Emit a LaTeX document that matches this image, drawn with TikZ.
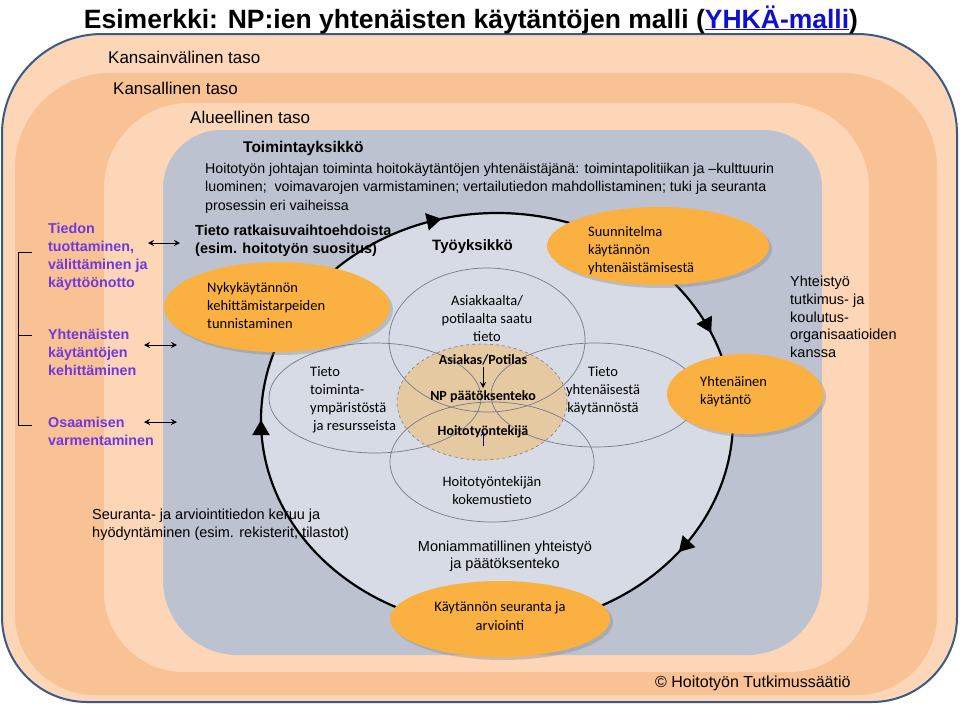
\documentclass[tikz,border=0pt]{standalone}
\usepackage{fontspec}
\setmainfont{Liberation Sans}
\newfontfamily\calfont{Carlito}
\usepackage{tikz}
\usetikzlibrary{shapes.geometric}
\usetikzlibrary{arrows.meta}
\usetikzlibrary{decorations.markings, shadows}
\usetikzlibrary{positioning}

\definecolor{peachlight}{RGB}{252,214,182}
\definecolor{peachdark}{RGB}{248,194,148}
\definecolor{unitgray}{RGB}{189,194,208}
\definecolor{circlefill}{RGB}{214,219,230}
\definecolor{ellorange}{RGB}{250,177,66}
\definecolor{coretan}{RGB}{229,201,160}
\definecolor{procpurple}{RGB}{112,56,224}
\definecolor{framedark}{RGB}{59,89,132}
\definecolor{linkblue}{RGB}{16,16,204}
\definecolor{vennline}{RGB}{118,122,138}

\begin{document}
\begin{tikzpicture}[x=1pt,y=-1pt,
  orangeell/.style={ellipse,inner sep=0pt,fill=ellorange,drop shadow={shadow xshift=3pt,shadow yshift=-3pt,opacity=0.35}},
  vennell/.style={draw=vennline,line width=0.7pt},
  arialtxt/.style={inner sep=0pt,align=left,font=\fontsize{14.2}{18.5}\selectfont},
  caltxt/.style={inner sep=0pt,align=left,font=\calfont\fontsize{14.5}{18}\selectfont},
  purpletxt/.style={inner sep=0pt,align=left,anchor=north west,text=procpurple,font=\bfseries\fontsize{14.3}{18}\selectfont},
  leveltxt/.style={inner sep=0pt,anchor=base west,font=\fontsize{17}{20}\selectfont},
  coretxt/.style={inner sep=2pt,anchor=base,font=\calfont\bfseries\fontsize{14}{16}\selectfont},
  dblarrow/.style={{Stealth[length=6pt,width=6pt]}-{Stealth[length=6pt,width=6pt]},line width=0.9pt},
  cyclearrow/.style={line width=2.2pt,postaction={decorate},decoration={markings,
    mark=at position 0.105 with {\arrow{Triangle[length=15pt,width=17pt]}},
    mark=at position 0.5 with {\arrow{Triangle[length=15pt,width=17pt]}},
    mark=at position 0.71 with {\arrow{Triangle[length=15pt,width=17pt]}},
    mark=at position 0.935 with {\arrow{Triangle[length=15pt,width=17pt]}}}}
]
\useasboundingbox (0,0) rectangle (960,705);

\fill[peachlight,draw=framedark,line width=2pt] (2,368) [rounded corners=100pt] -- (2,34) -- (957,34) -- (957,368) [rounded corners=85pt] -- (957,702) -- (2,702) -- cycle;
\fill[peachdark] (15,380) [rounded corners=95pt] -- (15,73) -- (937,73) -- (937,380) [rounded corners=80pt] -- (937,695) -- (15,695) -- cycle;
\fill[peachlight] (104,390) [rounded corners=85pt] -- (104,103) -- (869,103) -- (869,390) [rounded corners=80pt] -- (869,672) -- (104,672) -- cycle;
\fill[unitgray] (163,390) [rounded corners=58pt] -- (163,130) -- (822,130) -- (822,390) [rounded corners=75pt] -- (822,655) -- (163,655) -- cycle;

\node[font=\bfseries\fontsize{26.5}{30}\selectfont,anchor=base,inner sep=0pt] (title) at (471,28) {Esimerkki: NP:ien yhtenäisten käytäntöjen malli (\textcolor{linkblue}{\underline{YHKÄ-malli}})};
\node[leveltxt] (intl) at (108,63) {Kansainvälinen taso};
\node[leveltxt] (natl) at (113,94) {Kansallinen taso};
\node[leveltxt] (regl) at (190,123) {Alueellinen taso};

\node[inner sep=0pt,anchor=base west,font=\bfseries\fontsize{15.5}{18}\selectfont] (unit) at (243,152.5) {Toimintayksikkö};
\node[arialtxt,anchor=north west] (leader) at (205,163) {Hoitotyön johtajan toiminta hoitokäytäntöjen yhtenäistäjänä: toimintapolitiikan ja –kulttuurin\\luominen;\ \ voimavarojen varmistaminen; vertailutiedon mahdollistaminen; tuki ja seuranta\\prosessin eri vaiheissa};

\fill[circlefill] (497,420) ellipse [x radius=236, y radius=207];
\fill[coretan] (482,402) ellipse [x radius=85, y radius=58];
\draw[vennell] (487,340) ellipse [x radius=98, y radius=72];
\draw[vennell] (375,398) ellipse [x radius=106, y radius=55];
\draw[vennell] (595,395) ellipse [x radius=104, y radius=52];
\draw[vennell] (492,462) ellipse [x radius=102, y radius=60];
\draw[vennline,dashed,line width=0.6pt] (482,402) ellipse [x radius=85, y radius=58];

\node[inner sep=0pt,anchor=north west,align=left,font=\bfseries\fontsize{14.5}{17.5}\selectfont] (options) at (195,225) {Tieto ratkaisuvaihtoehdoista\\(esim. hoitotyön suositus)};
\draw[cyclearrow] (497,420) ellipse [x radius=236, y radius=207];

\node[orangeell,minimum width=226,minimum height=90] (nykyell) at (277,307) {};
\node[orangeell,minimum width=222,minimum height=78] (suunell) at (658,246) {};
\node[orangeell,minimum width=156,minimum height=80] (yhtell) at (745,394) {};
\node[orangeell,minimum width=220,minimum height=76] (kaytell) at (500,619) {};

\node[caltxt,anchor=north west] (nyky) at (207,282) {Nykykäytännön\\kehittämistarpeiden\\tunnistaminen};
\node[caltxt,anchor=north west] (suun) at (588,226) {Suunnitelma\\käytännön\\yhtenäistämisestä};
\node[caltxt,anchor=north west] (yhten) at (700,376) {Yhtenäinen\\käytäntö};
\node[caltxt,align=center,anchor=north,font=\calfont\fontsize{14.5}{19}\selectfont] (kayt) at (500,601) {Käytännön seuranta ja\\arviointi};

\node[inner sep=0pt,anchor=base west,font=\bfseries\fontsize{15}{18}\selectfont] (workunit) at (432,250) {Työyksikkö};
\node[caltxt,align=center,anchor=north] (client) at (487,295) {Asiakkaalta/\\potilaalta saatu\\tieto};
\node[caltxt,anchor=north west] (environ) at (310,366) {Tieto\\toiminta-\\ympäristöstä\\\hspace{3pt}ja resursseista};
\node[caltxt,align=center,anchor=north] (uniform) at (603,366) {Tieto\\yhtenäisestä\\käytännöstä};
\node[caltxt,align=center,anchor=north] (experience) at (492,476) {Hoitotyöntekijän\\kokemustieto};

\node[coretxt] (patient) at (483,364) {Asiakas/Potilas};
\node[coretxt] (decision) at (483,400) {NP päätöksenteko};
\node[coretxt] (nurse) at (483,435) {Hoitotyöntekijä};
\draw[-{Stealth[length=6pt,width=6pt]},line width=0.9pt] (patient) -- (decision);
\draw[-{Stealth[length=5pt,width=5pt]},line width=1pt,color=blue!55!black] ([yshift=-6pt]nurse.south) -- (nurse.center);

\node[arialtxt,font=\fontsize{14.5}{17.7}\selectfont,anchor=north west] (partners) at (790,276) {Yhteistyö\\tutkimus- ja\\koulutus-\\organisaatioiden\\kanssa};
\node[arialtxt,font=\fontsize{14.5}{18}\selectfont,anchor=north west] (followup) at (92,509) {Seuranta- ja arviointitiedon keruu ja\\hyödyntäminen (esim. rekisterit, tilastot)};
\node[arialtxt,font=\fontsize{14.5}{17}\selectfont,align=center,anchor=north] (multi) at (505,541) {Moniammatillinen yhteistyö\\ja päätöksenteko};
\node[inner sep=0pt,anchor=base west,font=\fontsize{16}{18}\selectfont] (copyr) at (655,687) {© Hoitotyön Tutkimussäätiö};

\node[purpletxt] (tiedon) at (48,223) {Tiedon\\tuottaminen,\\välittäminen ja\\käyttöönotto};
\node[purpletxt] (yhtenaisten) at (48,329) {Yhtenäisten\\käytäntöjen\\kehittäminen};
\node[purpletxt] (osaamisen) at (48,417) {Osaamisen\\varmentaminen};

\coordinate (tiedonL) at (148,243);
\coordinate (tiedonR) at (180,243);
\coordinate (yhtenL) at (144,345);
\coordinate (yhtenR) at (177,345);
\coordinate (osaamL) at (144,422);
\coordinate (osaamR) at (177,422);
\draw[dblarrow] (tiedonL) -- (tiedonR);
\draw[dblarrow] (yhtenL) -- (yhtenR);
\draw[dblarrow] (osaamL) -- (osaamR);

\draw[line width=1pt] (32,252) -- (18,252) -- (18,425) -- (32,425);
\draw[line width=1pt] (18,335) -- (32,335);

\end{tikzpicture}
\end{document}
